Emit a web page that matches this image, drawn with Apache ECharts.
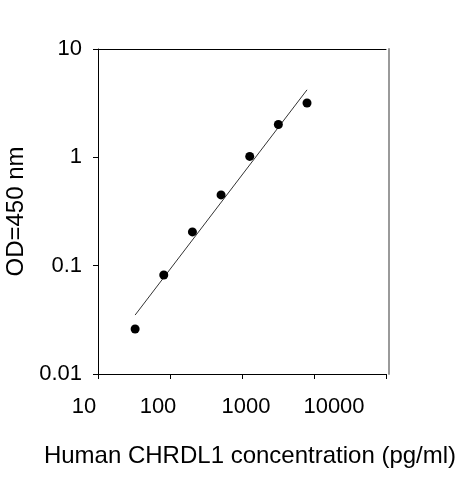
<!DOCTYPE html>
<html><head><meta charset="utf-8">
<script src="https://cdn.jsdelivr.net/npm/echarts@6/dist/echarts.min.js"></script>
<style>html,body{margin:0;padding:0;background:#fff}#c{width:463px;height:480px}</style>
</head><body><div id="c"></div>
<script>
const concentration = [32.77, 81.92, 204.8, 512, 1280, 3200, 8000];
const od = [0.026, 0.082, 0.205, 0.45, 1.02, 2.01, 3.17];
const fitX = [32.77, 8000];
const fitY = [0.035, 4.2];
const xTickLabels = ['10', '100', '1000', '10000'];
const yTickLabels = ['0.01', '0.1', '1', '10'];

const font = 'Liberation Sans, Arial, sans-serif';
const chart = echarts.init(document.getElementById('c'), null, {renderer: 'canvas'});
const xShift = {'10': -14, '100': -12, '1000': 4, '10000': 20};
const rich = {};
xTickLabels.forEach((t, i) => {
  const d = xShift[t];
  rich['x' + i] = {fontSize: 22, fontFamily: font, color: '#000',
    padding: d < 0 ? [0, -2 * d, 0, 0] : [0, 0, 0, 2 * d]};
});
chart.setOption({
  animation: false,
  grid: {left: 98, right: 77, top: 49, bottom: 106, containLabel: false, outerBoundsMode: 'none'},
  xAxis: [{
    type: 'log', min: 10, max: 100000, logBase: 10,
    name: 'Human CHRDL1 concentration (pg/ml)', nameLocation: 'middle', nameGap: 70,
    nameTextStyle: {fontSize: 24, fontFamily: font, color: '#000', padding: [0, 0, 0, 16]},
    axisLine: {show: true, lineStyle: {color: '#000', width: 1}},
    axisTick: {show: true, inside: false, length: 5, lineStyle: {color: '#000'}},
    minorTick: {show: false}, splitLine: {show: false},
    axisLabel: {margin: 22, fontSize: 22, fontFamily: font, color: '#000',
      formatter: function (v) {
        const s = String(Math.round(v));
        const i = xTickLabels.indexOf(s);
        return i < 0 ? '' : '{x' + i + '|' + s + '}';
      }, rich: rich}
  }, {
    type: 'log', min: 10, max: 100000, position: 'top',
    axisLine: {show: true, lineStyle: {color: '#000', width: 1}},
    axisTick: {show: false}, axisLabel: {show: false}, splitLine: {show: false}
  }],
  yAxis: [{
    type: 'log', min: 0.01, max: 10, logBase: 10,
    name: 'OD=450 nm', nameLocation: 'middle', nameGap: 64, nameRotate: 90,
    nameTextStyle: {fontSize: 24, fontFamily: font, color: '#000'},
    axisLine: {show: true, lineStyle: {color: '#000', width: 1}},
    axisTick: {show: true, length: 5, lineStyle: {color: '#000'}},
    splitLine: {show: false},
    axisLabel: {margin: 16, fontSize: 22, fontFamily: font, color: '#000',
      formatter: function (v) {
        const s = String(+v.toPrecision(3));
        return yTickLabels.indexOf(s) < 0 ? '' : s;
      }}
  }, {
    type: 'log', min: 0.01, max: 10, position: 'right', offset: 3,
    axisLine: {show: true, lineStyle: {color: '#9a9a9a', width: 2}},
    axisTick: {show: false}, axisLabel: {show: false}, splitLine: {show: false}
  }],
  series: [{
    type: 'line', data: fitX.map((x, i) => [x, fitY[i]]),
    showSymbol: false, symbol: 'none',
    lineStyle: {color: '#333', width: 1}, z: 2
  }, {
    type: 'scatter', data: concentration.map((x, i) => [x, od[i]]),
    symbol: 'circle', symbolSize: 9,
    itemStyle: {color: '#000', opacity: 1}, z: 3
  }]
});
</script></body></html>
